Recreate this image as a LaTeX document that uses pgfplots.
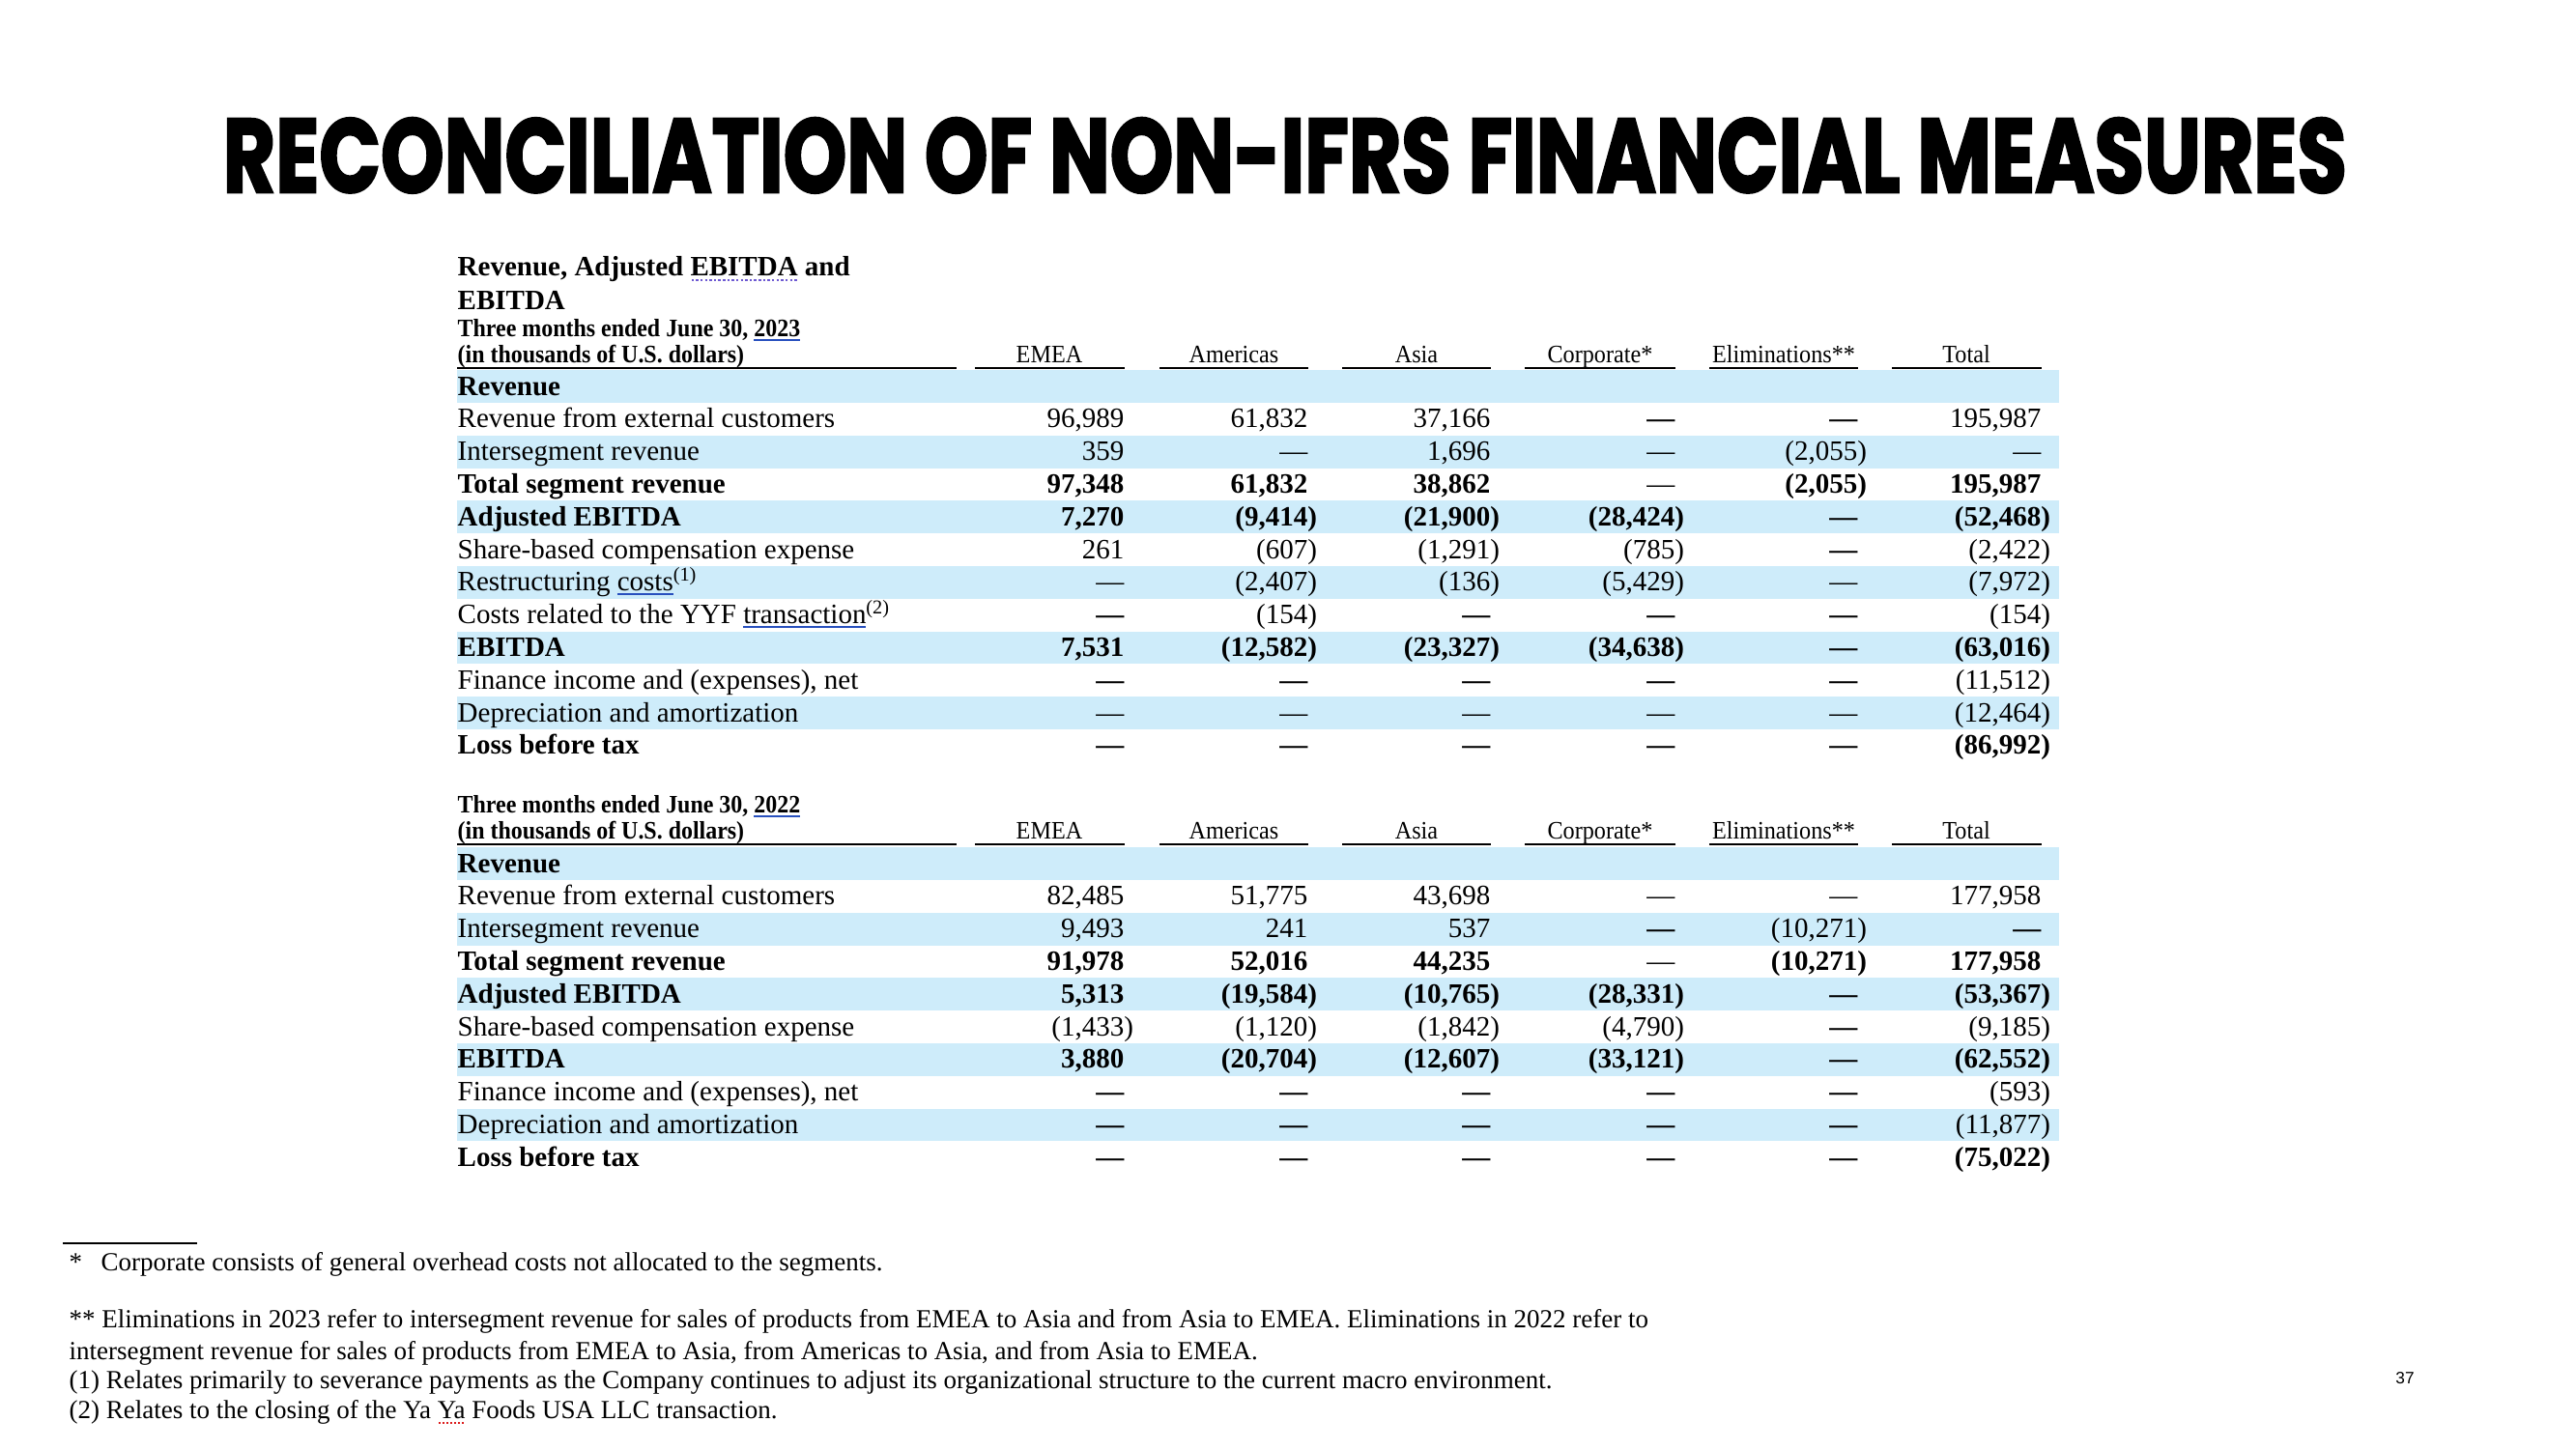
\documentclass[border=0pt]{standalone}
\usepackage{graphicx}
\usepackage{pgfplots}
\pgfplotsset{compat=1.18}
\usepackage{fontspec}
\setmainfont{Liberation Serif}
\newfontfamily\titlefont{Poppins}[BoldFeatures={FakeBold=2.5}]
\newfontfamily\pgfont{Liberation Sans}
\definecolor{band}{RGB}{206,236,250}
\definecolor{ulblue}{RGB}{40,80,190}
\definecolor{ulpurple}{RGB}{110,90,210}
\definecolor{ulred}{RGB}{220,30,30}
\newlength\px \setlength\px{0.28453pt}
\newcommand\tabfont{\fontsize{8.25pt}{10pt}\selectfont}
\newcommand\hdfont{\fontsize{7.4pt}{9pt}\selectfont}
\newcommand\fnfont{\fontsize{7.68pt}{9pt}\selectfont}
\newcommand\nv[1]{(#1\rlap{)}}
\newcommand\dm{{\mdseries —}}
\newcommand\db{{\bfseries —}}
\newcommand\ulb[1]{\setbox0\hbox{#1}\rlap{\color{ulblue}\rule[-1.3pt]{\wd0}{0.55pt}}\box0\relax}
\newcommand\ulp[1]{\setbox0\hbox{#1}\rlap{\color{ulpurple}\raisebox{-1.4pt}{\hbox to\wd0{\xleaders\hbox to 1.3pt{\hss\rule{0.7pt}{0.55pt}\hss}\hfill}}}\box0\relax}
\newcommand\ulr[1]{\setbox0\hbox{#1}\rlap{\color{ulred}\raisebox{-1.6pt}{\hbox to\wd0{\xleaders\hbox to 1.1pt{\hss\rule{0.6pt}{0.5pt}\hss}\hfill}}}\box0\relax}
\tikzset{val/.style={anchor=base east, inner sep=0pt},
         lab/.style={anchor=base west, inner sep=0pt},
         hd/.style={anchor=base, inner sep=0pt, font=\hdfont}}
% one table row: y-baseline, font switch, six values (EMEA, Americas, Asia, Corporate, Eliminations, Total)
\newcommand\Row[8]{%
  \node[val,font=\tabfont#2] at (axis cs:1164,#1) {#3};
  \node[val,font=\tabfont#2] at (axis cs:1354,#1) {#4};
  \node[val,font=\tabfont#2] at (axis cs:1543,#1) {#5};
  \node[val,font=\tabfont#2] at (axis cs:1734,#1) {#6};
  \node[val,font=\tabfont#2] at (axis cs:1923,#1) {#7};
  \node[val,font=\tabfont#2] at (axis cs:2113,#1) {#8};}
\newcommand\Lab[3]{\node[lab,font=\tabfont#2] at (axis cs:473,#1) {#3};}
\newcommand\Band[2]{\addplot[fill=band, draw=none] coordinates {(473,#1) (2131,#1) (2131,#2) (473,#2)} -- cycle;}
\newcommand\HL[3]{\addplot[black, line width=0.5pt] coordinates {(#1,#3) (#2,#3)};}
\newcommand\Heads[1]{%
  \HL{473}{990}{#1}\HL{1009}{1164}{#1}\HL{1200}{1354}{#1}\HL{1389}{1543}{#1}%
  \HL{1578}{1734}{#1}\HL{1769}{1923}{#1}\HL{1958}{2113}{#1}%
  \node[hd] at (axis cs:1086,#1-6) {\scalebox{0.93}[1]{EMEA}};
  \node[hd] at (axis cs:1277,#1-6) {\scalebox{0.93}[1]{Americas}};
  \node[hd] at (axis cs:1466,#1-6) {\scalebox{0.93}[1]{Asia}};
  \node[hd] at (axis cs:1656,#1-6) {\scalebox{0.93}[1]{Corporate*}};
  \node[hd] at (axis cs:1846,#1-6) {\scalebox{0.93}[1]{Eliminations**}};
  \node[hd] at (axis cs:2035,#1-6) {\scalebox{0.93}[1]{Total}};}
\begin{document}
\begin{tikzpicture}
\begin{axis}[scale only axis, width=26.66cm, height=15cm,
  xmin=0, xmax=2666, ymin=0, ymax=1500, y dir=reverse,
  hide axis, clip=false]
\path (axis cs:0,0) rectangle (axis cs:2666,1500);
% title
\node[anchor=base west, inner sep=0pt] at (axis cs:230,199)
  {\resizebox{2198\px}{77\px}{\titlefont\bfseries RECONCILIATION OF NON-IFRS FINANCIAL MEASURES}};
% ---------- 2023 block ----------
\Band{383.1}{416.9}\Band{450.7}{484.5}\Band{518.3}{552.1}
\Band{585.9}{619.7}\Band{653.5}{687.3}\Band{721.1}{754.9}
\node[lab,font=\tabfont\bfseries] at (axis cs:473,285.7) {Revenue, Adjusted \ulp{EBITDA} and};
\node[lab,font=\tabfont\bfseries] at (axis cs:473,320.5) {EBITDA};
\node[lab,font=\hdfont\bfseries] at (axis cs:473,348.5) {\scalebox{0.92}[1]{Three months ended June 30, \ulb{2023}}};
\node[lab,font=\hdfont\bfseries] at (axis cs:473,375) {\scalebox{0.92}[1]{(in thousands of U.S. dollars)}};
\Heads{381}
\Lab{409}{\bfseries}{Revenue}
\Lab{442.8}{}{Revenue from external customers}
\Lab{476.6}{}{Intersegment revenue}
\Lab{510.4}{\bfseries}{Total segment revenue}
\Lab{544.2}{\bfseries}{Adjusted EBITDA}
\Lab{578}{}{Share-based compensation expense}
\Lab{611.8}{}{Restructuring \ulb{costs}\textsuperscript{(1)}}
\Lab{645.6}{}{Costs related to the YYF \ulb{transaction}\textsuperscript{(2)}}
\Lab{679.4}{\bfseries}{EBITDA}
\Lab{713.2}{}{Finance income and (expenses), net}
\Lab{747}{}{Depreciation and amortization}
\Lab{780.8}{\bfseries}{Loss before tax}
\Row{442.8}{}{96,989}{61,832}{37,166}{\db}{\db}{195,987}
\Row{476.6}{}{359}{\dm}{1,696}{\dm}{\nv{2,055}}{\dm}
\Row{510.4}{\bfseries}{97,348}{61,832}{38,862}{\dm}{\nv{2,055}}{195,987}
\Row{544.2}{\bfseries}{7,270}{\nv{9,414}}{\nv{21,900}}{\nv{28,424}}{\db}{\nv{52,468}}
\Row{578}{}{261}{\nv{607}}{\nv{1,291}}{\nv{785}}{\db}{\nv{2,422}}
\Row{611.8}{}{\dm}{\nv{2,407}}{\nv{136}}{\nv{5,429}}{\dm}{\nv{7,972}}
\Row{645.6}{}{\db}{\nv{154}}{\db}{\db}{\db}{\nv{154}}
\Row{679.4}{\bfseries}{7,531}{\nv{12,582}}{\nv{23,327}}{\nv{34,638}}{\db}{\nv{63,016}}
\Row{713.2}{}{\db}{\db}{\db}{\db}{\db}{\nv{11,512}}
\Row{747}{}{\dm}{\dm}{\dm}{\dm}{\dm}{\nv{12,464}}
\Row{780.8}{\bfseries}{\db}{\db}{\db}{\db}{\db}{\nv{86,992}}
% ---------- 2022 block ----------
\Band{877.1}{910.9}\Band{944.7}{978.5}\Band{1012.3}{1046.1}
\Band{1079.9}{1113.7}\Band{1147.5}{1181.3}
\node[lab,font=\hdfont\bfseries] at (axis cs:473,841.5) {\scalebox{0.92}[1]{Three months ended June 30, \ulb{2022}}};
\node[lab,font=\hdfont\bfseries] at (axis cs:473,868) {\scalebox{0.92}[1]{(in thousands of U.S. dollars)}};
\Heads{874}
\Lab{903}{\bfseries}{Revenue}
\Lab{936.8}{}{Revenue from external customers}
\Lab{970.6}{}{Intersegment revenue}
\Lab{1004.4}{\bfseries}{Total segment revenue}
\Lab{1038.2}{\bfseries}{Adjusted EBITDA}
\Lab{1072}{}{Share-based compensation expense}
\Lab{1105.8}{\bfseries}{EBITDA}
\Lab{1139.6}{}{Finance income and (expenses), net}
\Lab{1173.4}{}{Depreciation and amortization}
\Lab{1207.2}{\bfseries}{Loss before tax}
\Row{936.8}{}{82,485}{51,775}{43,698}{\dm}{\dm}{177,958}
\Row{970.6}{}{9,493}{241}{537}{\db}{\nv{10,271}}{\db}
\Row{1004.4}{\bfseries}{91,978}{52,016}{44,235}{\dm}{\nv{10,271}}{177,958}
\Row{1038.2}{\bfseries}{5,313}{\nv{19,584}}{\nv{10,765}}{\nv{28,331}}{\db}{\nv{53,367}}
\Row{1072}{}{\nv{1,433}}{\nv{1,120}}{\nv{1,842}}{\nv{4,790}}{\db}{\nv{9,185}}
\Row{1105.8}{\bfseries}{3,880}{\nv{20,704}}{\nv{12,607}}{\nv{33,121}}{\db}{\nv{62,552}}
\Row{1139.6}{}{\db}{\db}{\db}{\db}{\db}{\nv{593}}
\Row{1173.4}{}{\db}{\db}{\db}{\db}{\db}{\nv{11,877}}
\Row{1207.2}{\bfseries}{\db}{\db}{\db}{\db}{\db}{\nv{75,022}}
% ---------- footnotes ----------
\HL{65}{204}{1287}
\node[lab,font=\fnfont] at (axis cs:71,1315) {*};
\node[lab,font=\fnfont] at (axis cs:104,1315) {Corporate consists of general overhead costs not allocated to the segments.};
\node[lab,font=\fnfont] at (axis cs:71,1374) {** Eliminations in 2023 refer to intersegment revenue for sales of products from EMEA to Asia and from Asia to EMEA. Eliminations in 2022 refer to};
\node[lab,font=\fnfont] at (axis cs:71,1407) {intersegment revenue for sales of products from EMEA to Asia, from Americas to Asia, and from Asia to EMEA.};
\node[lab,font=\fnfont] at (axis cs:71,1437) {(1) Relates primarily to severance payments as the Company continues to adjust its organizational structure to the current macro environment.};
\node[lab,font=\fnfont] at (axis cs:71,1468) {(2) Relates to the closing of the Ya \ulr{Ya} Foods USA LLC transaction.};
\node[anchor=center, inner sep=0pt, font=\pgfont\fontsize{4.9pt}{6pt}\selectfont] at (axis cs:2489,1427) {37};
\end{axis}
\end{tikzpicture}
\end{document}
